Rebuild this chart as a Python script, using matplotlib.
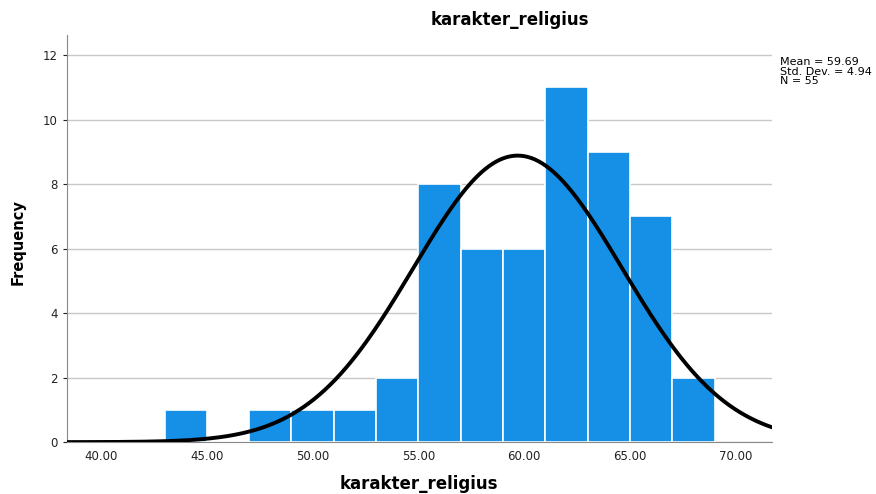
import numpy as np
import matplotlib
matplotlib.use("Agg")
import matplotlib.pyplot as plt

# histogram bins (left edges, width 2) and counts
bin_edges = [43, 45, 47, 49, 51, 53, 55, 57, 59, 61, 63, 65, 67, 69]
counts = [1, 0, 1, 1, 1, 2, 8, 6, 6, 11, 9, 7, 2]
mean_val = 59.69
std_val = 4.94
n_val = 55
x_ticks = [40, 45, 50, 55, 60, 65, 70]
y_ticks = [0, 2, 4, 6, 8, 10, 12]

bar_color = "#1590e6"
grid_color = "#c8c8c8"

fig = plt.figure(figsize=(8.76, 4.94), dpi=100)
ax = fig.add_axes([0.0765, 0.105, 0.8045, 0.824])

lefts = np.array(bin_edges[:-1], dtype=float)
widths = np.diff(bin_edges)
ax.bar(lefts, counts, width=widths, align="edge", color=bar_color,
       edgecolor="white", linewidth=1.2, zorder=2)

# normal curve scaled to counts
xmin, xmax = 38.39, 71.7
xs = np.linspace(xmin, xmax, 400)
bw = widths[0]
ys = n_val * bw / (std_val * np.sqrt(2 * np.pi)) * np.exp(-0.5 * ((xs - mean_val) / std_val) ** 2)
ax.plot(xs, ys, color="black", lw=2.8, zorder=3, solid_capstyle="round")

ax.set_xlim(xmin, xmax)
ax.set_ylim(0, 12.62)
ax.set_xticks(x_ticks)
ax.set_xticklabels([f"{v:.2f}" for v in x_ticks])
ax.set_yticks(y_ticks)
ax.yaxis.grid(True, color=grid_color, lw=1, zorder=0)
ax.set_axisbelow(True)

for s in ["top", "right"]:
    ax.spines[s].set_visible(False)
ax.spines["left"].set_color("#888888")
ax.spines["bottom"].set_color("#888888")
ax.tick_params(axis="x", length=0, labelsize=8.5, pad=6, colors="#222222")
ax.tick_params(axis="y", length=3, labelsize=8.5, colors="#222222", width=0.8)

fig.text(419 / 876, 1 - 484 / 494, "karakter_religius", fontsize=12,
         fontweight="bold", ha="center", va="center")
fig.text(18 / 876, 1 - 242 / 494, "Frequency", fontsize=10.5,
         fontweight="bold", ha="center", va="center", rotation=90)
fig.text(510 / 876, 1 - 20 / 494, "karakter_religius", fontsize=12,
         fontweight="bold", ha="center", va="center")

fig.text(780 / 876, 1 - 57 / 494,
         f"Mean = {mean_val:.2f}\nStd. Dev. = {std_val:.2f}\nN = {n_val}",
         fontsize=8, ha="left", va="top", linespacing=0.95)

fig.savefig("out.png", dpi=100)
